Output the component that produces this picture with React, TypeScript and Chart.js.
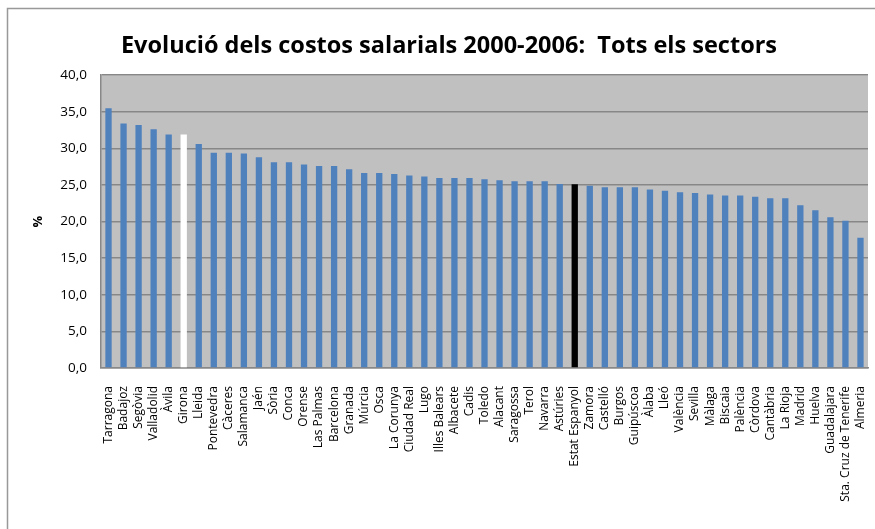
import React, { useEffect, useRef } from "react";
import { Chart, registerables } from "chart.js";

Chart.register(...registerables);

const categories = [
  "Tarragona", "Badajoz", "Segòvia", "Valladolid", "Àvila", "Girona", "Lleida",
  "Pontevedra", "Càceres", "Salamanca", "Jaén", "Sòria", "Conca", "Orense",
  "Las Palmas", "Barcelona", "Granada", "Múrcia", "Osca", "La Corunya",
  "Ciudad Real", "Lugo", "Illes Balears", "Albacete", "Cadis", "Toledo",
  "Alacant", "Saragossa", "Terol", "Navarra", "Astúries", "Estat Espanyol",
  "Zamora", "Castelló", "Burgos", "Guipúscoa", "Àlaba", "Lleó", "València",
  "Sevilla", "Màlaga", "Biscaia", "Palència", "Còrdova", "Cantàbria",
  "La Rioja", "Madrid", "Huelva", "Guadalajara", "Sta. Cruz de Tenerife", "Almeria",
];

const values = [
  35.5, 33.4, 33.2, 32.6, 31.9, 31.9, 30.6, 29.4, 29.4, 29.3, 28.8, 28.1, 28.1,
  27.8, 27.6, 27.6, 27.15, 26.65, 26.65, 26.5, 26.3, 26.15, 25.95, 25.95, 25.95,
  25.8, 25.65, 25.5, 25.5, 25.5, 25.15, 25.1, 24.9, 24.7, 24.7, 24.7, 24.4,
  24.2, 24.0, 23.9, 23.7, 23.55, 23.55, 23.4, 23.2, 23.2, 22.25, 21.55, 20.6,
  20.1, 17.8,
];

const highlightWhite = "Girona";
const highlightBlack = "Estat Espanyol";
const titleText = "Evolució dels costos salarials 2000-2006:  Tots els sectors";
const yAxisTitle = "%";

const BLUE = "#4F81BD";

const framePlugin = {
  id: "frameAndBg",
  beforeDraw(chart: any) {
    const { ctx, chartArea } = chart;
    ctx.save();
    ctx.fillStyle = "#ffffff";
    ctx.fillRect(0, 0, chart.width, chart.height);
    ctx.strokeStyle = "#999999";
    ctx.lineWidth = 1.5;
    ctx.beginPath();
    ctx.moveTo(7.5, chart.height);
    ctx.lineTo(7.5, 8.5);
    ctx.lineTo(chart.width, 8.5);
    ctx.stroke();
    ctx.fillStyle = "#C0C0C0";
    ctx.fillRect(chartArea.left, chartArea.top, chartArea.right - chartArea.left, chartArea.bottom - chartArea.top);
    ctx.restore();
  },
};

export default function App() {
  const ref = useRef<HTMLCanvasElement | null>(null);

  useEffect(() => {
    if (!ref.current) return;
    const colors = categories.map((c) =>
      c === highlightWhite ? "#FFFFFF" : c === highlightBlack ? "#000000" : BLUE
    );
    const chart = new Chart(ref.current, {
      type: "bar",
      data: {
        labels: categories,
        datasets: [
          {
            data: values,
            backgroundColor: colors,
            borderWidth: 0,
            barPercentage: 0.42,
            categoryPercentage: 1,
          },
        ],
      },
      options: {
        animation: false,
        responsive: false,
        devicePixelRatio: 1,
        layout: { padding: { left: 30, right: 7, top: 0, bottom: 0 } },
        plugins: {
          legend: { display: false },
          tooltip: { enabled: false },
          title: {
            display: true,
            text: titleText,
            color: "#000000",
            font: { family: "Open Sans", size: 23.5, weight: "bold" },
            padding: { top: 32, bottom: 15 },
          },
        },
        scales: {
          x: {
            grid: { display: false, drawTicks: false },
            border: { display: true, color: "#888888", width: 1.5 },
            ticks: {
              autoSkip: false,
              maxRotation: 90,
              minRotation: 90,
              padding: 18,
              color: "#000000",
              font: { family: "Open Sans", size: 12 },
            },
            afterFit(scale: any) {
              scale.height = 161;
              scale.paddingLeft = 0;
              scale.paddingRight = 0;
            },
          },
          y: {
            min: 0,
            max: 40,
            grid: { color: "#878787", lineWidth: 1.5, drawTicks: false },
            border: { display: true, color: "#888888", width: 1.5 },
            ticks: {
              stepSize: 5,
              padding: 14,
              color: "#000000",
              font: { family: "Open Sans", size: 13.5 },
              callback: (v: any) => Number(v).toFixed(1).replace(".", ","),
            },
            title: {
              display: true,
              text: yAxisTitle,
              color: "#000000",
              font: { family: "Open Sans", size: 13, weight: "bold" },
              padding: { top: 0, bottom: 0 },
            },
            afterFit(scale: any) {
              scale.width = 71;
              scale.paddingTop = 0;
              scale.paddingBottom = 0;
            },
          },
        },
      },
      plugins: [framePlugin],
    });
    return () => chart.destroy();
  }, []);

  return (
    <div style={{ position: "fixed", left: 0, top: 0, width: 875, height: 529 }}>
      <canvas ref={ref} width={875} height={529} />
    </div>
  );
}
